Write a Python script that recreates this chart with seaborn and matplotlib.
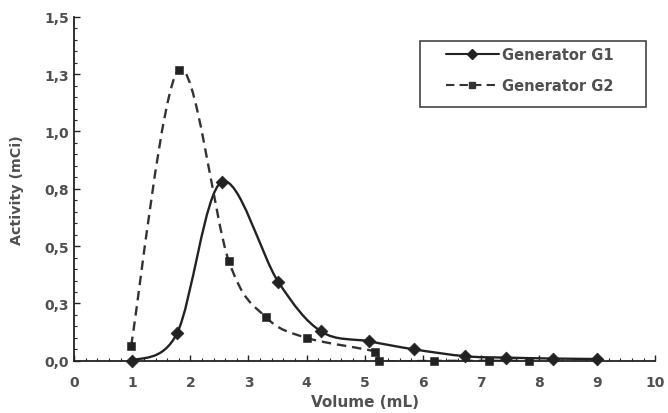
import numpy as np
import pandas as pd
import seaborn as sns
import matplotlib.pyplot as plt
from matplotlib.path import Path
from matplotlib.patches import PathPatch, Rectangle
from matplotlib.lines import Line2D
from matplotlib.ticker import MultipleLocator, FixedLocator

# values
g1_volume = [1.00, 1.77, 2.54, 3.51, 4.25, 5.08, 5.85, 6.73, 7.43, 8.24, 9.00]
g1_activity = [0.00, 0.12, 0.78, 0.345, 0.128, 0.085, 0.05, 0.02, 0.014, 0.01, 0.008]
g2_volume = [0.98, 1.80, 2.66, 3.30, 4.00, 5.18, 5.25, 6.20, 7.13, 7.83]
g2_activity = [0.065, 1.27, 0.436, 0.19, 0.10, 0.04, 0.0, 0.0, 0.0, 0.0]

x_ticks = [0, 1, 2, 3, 4, 5, 6, 7, 8, 9, 10]
y_ticks = [0.0, 0.25, 0.5, 0.75, 1.0, 1.25, 1.5]
y_tick_labels = ['0,0', '0,3', '0,5', '0,8', '1,0', '1,3', '1,5']
series_names = ['Generator G1', 'Generator G2']


def smooth_path(xs, ys):
    # Excel-style smoothed line: cubic Bezier segments through every point
    pts = np.column_stack([xs, ys])
    n = len(pts)
    verts = [pts[0]]
    codes = [Path.MOVETO]
    for i in range(n - 1):
        p0 = pts[i - 1] if i > 0 else pts[i]
        p1 = pts[i]
        p2 = pts[i + 1]
        p3 = pts[i + 2] if i + 2 < n else pts[i + 1]
        c1 = p1 + (p2 - p0) / 6.0
        c2 = p2 - (p3 - p1) / 6.0
        verts += [c1, c2, p2]
        codes += [Path.CURVE4] * 3
    return Path(verts, codes)


sns.set_style("ticks")
plt.rcParams['font.family'] = ['DejaVu Sans']

fig = plt.figure(figsize=(6.68, 4.14), dpi=100)
ax = fig.add_axes([0.111, 0.126, 0.870, 0.831])

line_col = '#222222'
dash = (0, (4, 2.5))
ax.add_patch(PathPatch(smooth_path(g1_volume, g1_activity), fill=False,
                       edgecolor=line_col, lw=1.7, zorder=2))
ax.add_patch(PathPatch(smooth_path(g2_volume, g2_activity), fill=False,
                       edgecolor='#333333', lw=1.7, linestyle=dash, zorder=2))

df1 = pd.DataFrame({'Volume': g1_volume, 'Activity': g1_activity})
df2 = pd.DataFrame({'Volume': g2_volume, 'Activity': g2_activity})
sns.scatterplot(data=df1, x='Volume', y='Activity', marker='D', s=42,
                color=line_col, edgecolor=line_col, ax=ax, zorder=3, clip_on=False)
sns.scatterplot(data=df2, x='Volume', y='Activity', marker='s', s=26,
                color=line_col, edgecolor=line_col, ax=ax, zorder=3, clip_on=False)

ax.set_xlim(0, 10)
ax.set_ylim(0, 1.5)
ax.xaxis.set_major_locator(FixedLocator(x_ticks))
ax.xaxis.set_minor_locator(MultipleLocator(0.2))
ax.yaxis.set_major_locator(FixedLocator(y_ticks))
ax.yaxis.set_minor_locator(MultipleLocator(0.05))
ax.set_yticklabels(y_tick_labels)
ax.set_xticklabels([str(t) for t in x_ticks])

txt_col = '#505050'
ax.tick_params(axis='both', which='major', direction='in', length=4, width=1.0,
               labelsize=10, labelcolor=txt_col, color=line_col)
ax.tick_params(axis='x', which='major', pad=10)
ax.tick_params(axis='y', which='major', pad=3.5)
ax.tick_params(axis='both', which='minor', direction='in', length=2.5, width=0.8,
               color=line_col)
for lab in ax.get_xticklabels() + ax.get_yticklabels():
    lab.set_fontweight('bold')

sns.despine(ax=ax)
for side in ['left', 'bottom']:
    ax.spines[side].set_color(line_col)
    ax.spines[side].set_linewidth(1.3)

ax.set_xlabel('Volume (mL)', fontsize=11, fontweight='bold', color=txt_col, labelpad=4)
ax.set_ylabel('Activity (mCi)', fontsize=10.3, fontweight='bold', color=txt_col, labelpad=15)

# legend frame drawn separately so the side padding can be wider than the top/bottom
W, H = 668.0, 414.0
fig.patches.append(Rectangle((420 / W, 1 - 108 / H), 226 / W, 66 / H,
                             transform=fig.transFigure, fill=True, facecolor='white',
                             edgecolor='#444444', lw=1.2, zorder=5))
handles = [
    Line2D([], [], color=line_col, lw=1.5, marker='D', markersize=5.5),
    Line2D([], [], color='#333333', lw=1.5, linestyle=dash, marker='s', markersize=4.5),
]
leg = fig.legend(handles, series_names, loc='upper left',
                 bbox_to_anchor=(446 / W, 1 - 48 / H),
                 frameon=False, borderpad=0, borderaxespad=0,
                 handlelength=3.6, handletextpad=0.25, labelspacing=1.08,
                 prop={'size': 10.5, 'weight': 'bold'})
leg.set_zorder(6)
for t in leg.get_texts():
    t.set_color(txt_col)

fig.savefig('out.png', dpi=100)
